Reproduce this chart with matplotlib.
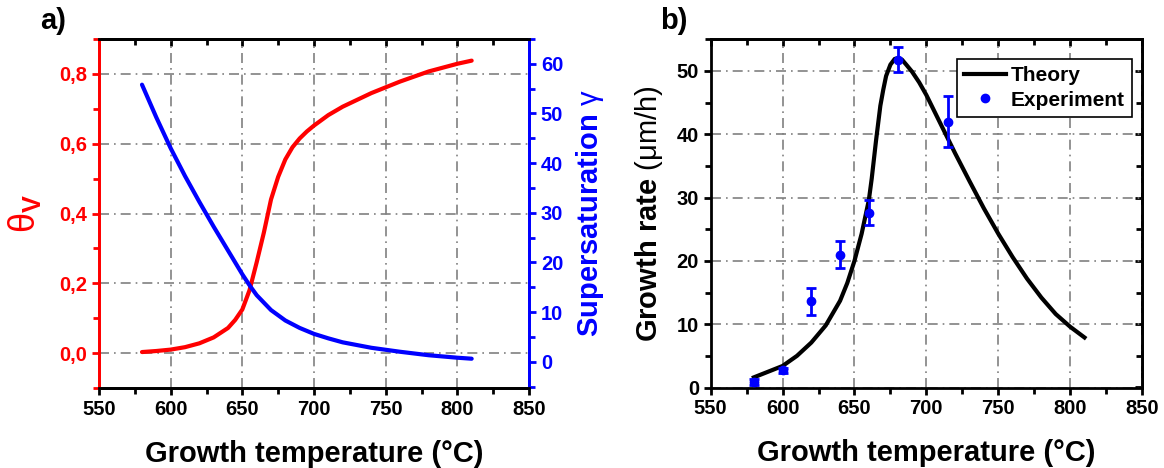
import matplotlib
matplotlib.use("Agg")
import matplotlib.pyplot as plt
from matplotlib.lines import Line2D
from matplotlib.ticker import MultipleLocator, FuncFormatter

plt.rcParams['font.family'] = ['Liberation Sans', 'DejaVu Sans']
plt.rcParams['font.weight'] = 'bold'
plt.rcParams['mathtext.fontset'] = 'custom'
plt.rcParams['mathtext.rm'] = 'Liberation Sans:normal'
plt.rcParams['mathtext.it'] = 'Liberation Sans:italic'
plt.rcParams['mathtext.bf'] = 'Liberation Sans:bold'

# ---- Panel a data ----
temp_theta = [580, 590, 600, 610, 620, 630, 640, 645, 650, 655, 660, 665, 670, 675,
              680, 685, 690, 695, 700, 710, 720, 740, 760, 780, 800, 810]
theta_v = [0.003, 0.006, 0.010, 0.017, 0.028, 0.045, 0.072, 0.095, 0.125, 0.18, 0.26,
           0.345, 0.44, 0.505, 0.555, 0.59, 0.615, 0.635, 0.652, 0.682, 0.706, 0.745,
           0.778, 0.807, 0.829, 0.838]

temp_gamma = [580, 590, 600, 610, 620, 630, 640, 650, 655, 660, 670, 680, 690,
              700, 710, 720, 740, 760, 780, 800, 810]
gamma = [55.8, 49.2, 43.0, 37.4, 32.2, 27.2, 22.4, 17.6, 15.4, 13.4, 10.4, 8.3, 6.8,
         5.6, 4.7, 3.9, 2.8, 2.0, 1.3, 0.8, 0.6]

# ---- Panel b data ----
temp_theory = [580, 590, 600, 610, 620, 630, 640, 645, 650, 655, 660, 662, 665, 668,
               670, 672, 675, 678, 680, 683, 686, 690, 695, 700, 710, 720, 730, 740,
               750, 760, 770, 780, 790, 800, 810]
rate_theory = [1.6, 2.5, 3.4, 5.0, 7.1, 9.8, 13.7, 16.5, 20.0, 24.3, 29.6, 33.0, 39.0,
               44.5, 47.0, 49.2, 51.0, 51.9, 52.0, 51.8, 51.0, 49.9, 48.2, 46.2, 41.6,
               37.0, 32.6, 28.3, 24.3, 20.6, 17.2, 14.2, 11.6, 9.6, 7.9]

temp_exp = [580, 600, 620, 640, 660, 680, 715]
rate_exp = [0.9, 2.75, 13.6, 21.0, 27.6, 51.8, 42.0]
rate_err = [0.5, 0.4, 2.1, 2.1, 2.0, 2.0, 4.0]

xticks = [550, 600, 650, 700, 750, 800, 850]

W, H = 1164, 468
fig = plt.figure(figsize=(W / 100, H / 100), dpi=100)

RED = '#ff0000'
BLUE = '#0000ff'
GRID = dict(color='#808080', linestyle=(0, (6, 3, 1, 3)), linewidth=1.2)
TICKFS = 14.5
LABFS = 21


def px_axes(l, r, t, b):
    return [l / W, 1 - b / H, (r - l) / W, (b - t) / H]


# ---------- Panel a ----------
ax = fig.add_axes(px_axes(99, 529, 39, 388))
ax.plot(temp_theta, theta_v, color=RED, lw=3, solid_capstyle='round', zorder=3)
ax.set_xlim(550, 850)
ax.set_ylim(-0.1, 0.9)
ax.set_xticks(xticks)
ax.xaxis.set_minor_locator(MultipleLocator(25))
ax.set_yticks([0.0, 0.2, 0.4, 0.6, 0.8])
ax.yaxis.set_minor_locator(MultipleLocator(0.1))
ax.yaxis.set_major_formatter(FuncFormatter(lambda v, p: f"{v:.1f}".replace('.', ',')))
ax.grid(True, which='major', **GRID)
for s in ['left', 'right', 'top', 'bottom']:
    ax.spines[s].set_linewidth(2)
ax.spines['left'].set_color(RED)
ax.spines['right'].set_color(BLUE)
ax.tick_params(axis='y', which='both', colors=RED, labelsize=TICKFS, width=2, direction='out')
ax.tick_params(axis='y', which='major', length=5)
ax.tick_params(axis='y', which='minor', length=4)
ax.tick_params(axis='x', which='both', labelsize=TICKFS, width=2, direction='out',
               bottom=True, top=False)
ax.tick_params(axis='x', which='major', length=5)
ax.tick_params(axis='x', which='minor', length=4)
ax.set_xlabel('Growth temperature (°C)', fontsize=LABFS, fontweight='bold', labelpad=15)
ax.set_ylabel(r'$\mathrm{\theta}_{\mathbf{V}}$', fontsize=26, color=RED, labelpad=12)

axt = ax.secondary_xaxis('top')
axt.set_xticks(xticks)
axt.xaxis.set_minor_locator(MultipleLocator(25))
axt.tick_params(axis='x', which='both', direction='in', width=2, labeltop=False)
axt.tick_params(axis='x', which='major', length=5)
axt.tick_params(axis='x', which='minor', length=4)
axt.spines['top'].set_linewidth(2)

ax2 = ax.twinx()
ax2.plot(temp_gamma, gamma, color=BLUE, lw=3, solid_capstyle='round', zorder=3)
ax2.set_ylim(-5.3, 65)
ax2.set_yticks([0, 10, 20, 30, 40, 50, 60])
ax2.yaxis.set_minor_locator(MultipleLocator(5))
ax2.spines['right'].set_color(BLUE)
ax2.spines['left'].set_color(RED)
for s in ['left', 'right', 'top', 'bottom']:
    ax2.spines[s].set_linewidth(2)
ax2.tick_params(axis='y', which='both', colors=BLUE, labelsize=TICKFS, width=2, direction='out')
ax2.tick_params(axis='y', which='major', length=5)
ax2.tick_params(axis='y', which='minor', length=4)
ax2.set_ylabel('Supersaturation $\\mathrm{\\gamma}$', fontsize=LABFS, color=BLUE,
               fontweight='bold', labelpad=8)
for t in ax.get_xticklabels() + ax.get_yticklabels() + ax2.get_yticklabels():
    t.set_fontweight('bold')

fig.text(40 / W, 1 - 21 / H, 'a)', fontsize=21, fontweight='bold', ha='left', va='center')

# ---------- Panel b ----------
bx = fig.add_axes(px_axes(710.7, 1142, 39.3, 387.5))
bx.plot(temp_theory, rate_theory, color='black', lw=3, zorder=3)
bx.errorbar(temp_exp, rate_exp, yerr=rate_err, fmt='o', color=BLUE, ms=6,
            elinewidth=2, capsize=3.5, capthick=2, zorder=4)
bx.set_xlim(550, 850)
bx.set_ylim(0, 55)
bx.set_xticks(xticks)
bx.xaxis.set_minor_locator(MultipleLocator(25))
bx.set_yticks([0, 10, 20, 30, 40, 50])
bx.yaxis.set_minor_locator(MultipleLocator(5))
bx.grid(True, which='major', **GRID)
for s in ['left', 'right', 'top', 'bottom']:
    bx.spines[s].set_linewidth(2)
bx.tick_params(which='both', labelsize=TICKFS, width=2, direction='out')
bx.tick_params(which='major', length=5)
bx.tick_params(which='minor', length=4)
for t in bx.get_xticklabels() + bx.get_yticklabels():
    t.set_fontweight('bold')
bx.set_xlabel('Growth temperature (°C)', fontsize=LABFS, fontweight='bold', labelpad=15)
bx.set_ylabel(r'Growth rate $\mathrm{(\mu m/h)}$', fontsize=LABFS, fontweight='bold',
              labelpad=8)

bt = bx.secondary_xaxis('top')
bt.set_xticks(xticks)
bt.xaxis.set_minor_locator(MultipleLocator(25))
bt.tick_params(axis='x', which='both', direction='in', width=2, labeltop=False)
bt.tick_params(axis='x', which='major', length=5)
bt.tick_params(axis='x', which='minor', length=4)
bt.spines['top'].set_linewidth(2)
br = bx.secondary_yaxis('right')
br.set_yticks([0, 10, 20, 30, 40, 50])
br.yaxis.set_minor_locator(MultipleLocator(5))
br.tick_params(axis='y', which='both', direction='in', width=2, labelright=False)
br.tick_params(axis='y', which='major', length=5)
br.tick_params(axis='y', which='minor', length=4)
br.spines['right'].set_linewidth(2)

handles = [Line2D([], [], color='black', lw=3),
           Line2D([], [], color=BLUE, marker='o', ms=6, linestyle='none')]
leg = bx.legend(handles, ['Theory', 'Experiment'], loc='upper right',
                bbox_to_anchor=(0.977, 0.943), fontsize=15,
                frameon=True, fancybox=False, edgecolor='black', framealpha=1,
                handlelength=2.0, handletextpad=0.25, borderpad=0.35,
                labelspacing=0.25, borderaxespad=0)
leg.get_frame().set_linewidth(1.2)
for t in leg.get_texts():
    t.set_fontweight('bold')

fig.text(660 / W, 1 - 21 / H, 'b)', fontsize=21, fontweight='bold', ha='left', va='center')

fig.savefig('out.png', dpi=100)
